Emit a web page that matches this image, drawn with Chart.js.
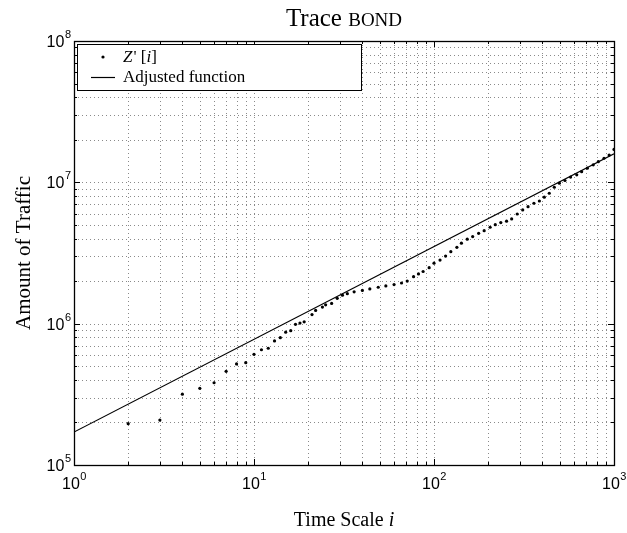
<!DOCTYPE html>
<html><head><meta charset="utf-8">
<script src="https://cdn.jsdelivr.net/npm/chart.js@4.4.0/dist/chart.umd.min.js"></script>
<style>html,body{margin:0;padding:0;background:#fff;}#wrap{width:627px;height:533px;}</style>
</head><body><div id="wrap"><canvas id="c" width="627" height="533"></canvas></div>
<script>
// ---- data ----
const timeScale = [2,3,4,5,6,7,8,9,10,11,12,13,14,15,16,17,18,19,21,22,24,25,27,29,31,33,36,40,44,49,54,60,66,71,77,82,87,94,100,108,116,124,134,142,153,164,177,190,205,219,235,253,270,290,311,333,359,385,410,437,466,497,534,574,621,661,711,767,818,880,940,1000];
const traffic = [1.96e5,2.08e5,3.17e5,3.49e5,3.82e5,4.6e5,5.19e5,5.3e5,6.07e5,6.54e5,6.7e5,7.55e5,7.96e5,8.7e5,8.92e5,9.9e5,1.01e6,1.03e6,
1.16e6,1.24e6,1.31e6,1.36e6,1.39e6,1.51e6,1.59e6,1.63e6,1.68e6,
1.72e6,1.76e6,1.81e6,1.85e6,1.89e6,1.94e6,2.0e6,2.15e6,2.25e6,2.34e6,2.49e6,
2.68e6,2.82e6,3.01e6,3.23e6,3.47e6,3.71e6,3.96e6,4.13e6,4.36e6,4.55e6,
4.81e6,5.02e6,5.19e6,5.31e6,5.51e6,5.97e6,6.38e6,6.73e6,7.11e6,7.38e6,
7.85e6,8.37e6,9.23e6,9.86e6,1.03e7,1.09e7,1.13e7,1.19e7,1.26e7,1.33e7,
1.40e7,1.48e7,1.56e7,1.71e7];
const fitX = [1, 1000];
const fitY = [1.71e5, 1.59e7];
const xTicks = [1,2,3,4,5,6,7,8,9,10,20,30,40,50,60,70,80,90,100,200,300,400,500,600,700,800,900,1000];
const yTicks = [1e5,2e5,3e5,4e5,5e5,6e5,7e5,8e5,9e5,1e6,2e6,3e6,4e6,5e6,6e6,7e6,8e6,9e6,1e7,2e7,3e7,4e7,5e7,6e7,7e7,8e7,9e7,1e8];
const xMajor = [1,10,100,1000];
const xExp = ['0','1','2','3'];
const yMajor = [1e5,1e6,1e7,1e8];
const yExp = ['5','6','7','8'];
const titleMain = 'Trace ';
const titleCaps = 'BOND';
const xTitle = 'Time Scale ';
const xTitleVar = 'i';
const yTitle = 'Amount of Traffic';
const seriesLabels = ["Z' [i]", 'Adjusted function'];

const SERIF = "'Liberation Serif', 'Times New Roman', serif";
const SANS = "'Liberation Sans', Arial, sans-serif";

const decor = {
  id: 'decor',
  beforeDatasetsDraw(chart) {
    const ctx = chart.ctx, a = chart.chartArea;
    const xs = chart.scales.x, ys = chart.scales.y;
    ctx.save();
    ctx.strokeStyle = '#8a8a8a';
    ctx.lineWidth = 1;
    ctx.setLineDash([1, 3]);
    xTicks.forEach(v => {
      const px = Math.round(xs.getPixelForValue(v)) + 0.5;
      if (px <= a.left + 1 || px >= a.right - 1) return;
      ctx.beginPath(); ctx.moveTo(px, a.top); ctx.lineTo(px, a.bottom); ctx.stroke();
    });
    yTicks.forEach(v => {
      const py = Math.round(ys.getPixelForValue(v)) + 0.5;
      if (py <= a.top + 1 || py >= a.bottom - 1) return;
      ctx.beginPath(); ctx.moveTo(a.left, py); ctx.lineTo(a.right, py); ctx.stroke();
    });
    ctx.restore();
  },
  afterDraw(chart) {
    const ctx = chart.ctx, a = chart.chartArea;
    const xs = chart.scales.x, ys = chart.scales.y;
    ctx.save();
    ctx.setLineDash([]);
    ctx.strokeStyle = '#000';
    ctx.lineWidth = 1;
    // tick marks (inward, all four sides)
    xTicks.forEach(v => {
      const px = Math.round(xs.getPixelForValue(v)) + 0.5;
      const len = xMajor.includes(v) ? 6 : 3;
      ctx.beginPath();
      ctx.moveTo(px, a.bottom); ctx.lineTo(px, a.bottom - len);
      ctx.moveTo(px, a.top); ctx.lineTo(px, a.top + len);
      ctx.stroke();
    });
    yTicks.forEach(v => {
      const py = Math.round(ys.getPixelForValue(v)) + 0.5;
      const len = yMajor.includes(v) ? 6 : 3;
      ctx.beginPath();
      ctx.moveTo(a.left, py); ctx.lineTo(a.left + len, py);
      ctx.moveTo(a.right, py); ctx.lineTo(a.right - len, py);
      ctx.stroke();
    });
    // box
    ctx.lineWidth = 1.3;
    ctx.strokeRect(Math.round(a.left) + 0.5, Math.round(a.top) + 0.5, Math.round(a.right - a.left), Math.round(a.bottom - a.top));

    // legend
    const lx = 77, ly = 44, lw = 284, lh = 46;
    ctx.fillStyle = '#fff';
    ctx.fillRect(lx, ly, lw, lh);
    ctx.lineWidth = 1;
    ctx.strokeRect(lx + 0.5, ly + 0.5, lw, lh);
    ctx.fillStyle = '#000';
    ctx.beginPath(); ctx.arc(103, 57, 1.6, 0, Math.PI * 2); ctx.fill();
    ctx.beginPath(); ctx.moveTo(91, 77.5); ctx.lineTo(115, 77.5); ctx.lineWidth = 1.2; ctx.stroke();
    ctx.textBaseline = 'alphabetic';
    ctx.textAlign = 'left';
    let tx = 123;
    const parts = [['Z', true], ["' [", false], ['i', true], [']', false]];
    parts.forEach(([s, it]) => {
      ctx.font = (it ? 'italic ' : '') + '17px ' + SERIF;
      ctx.fillText(s, tx, 62);
      tx += ctx.measureText(s).width + (s === 'Z' ? 1 : 0);
    });
    ctx.font = '17px ' + SERIF;
    ctx.fillText(seriesLabels[1], 123, 82);

    // tick labels
    xMajor.forEach((v, k) => {
      const px = xs.getPixelForValue(v);
      ctx.font = '16px ' + SANS;
      const wb = ctx.measureText('10').width;
      ctx.font = '11px ' + SANS;
      const we = ctx.measureText(xExp[k]).width;
      const x0 = px - (wb + we) / 2;
      ctx.font = '16px ' + SANS;
      ctx.fillText('10', x0, 489);
      ctx.font = '11px ' + SANS;
      ctx.fillText(xExp[k], x0 + wb + 0.5, 480);
    });
    yMajor.forEach((v, k) => {
      const py = ys.getPixelForValue(v);
      ctx.font = '11px ' + SANS;
      const we = ctx.measureText(yExp[k]).width;
      ctx.font = '16px ' + SANS;
      const wb = ctx.measureText('10').width;
      const xr = a.left - 3;
      ctx.fillText('10', xr - we - wb - 0.5, py + 6);
      ctx.font = '11px ' + SANS;
      ctx.fillText(yExp[k], xr - we, py - 3);
    });

    // title with small caps
    ctx.font = '25px ' + SERIF;
    const w1 = ctx.measureText(titleMain).width;
    ctx.font = '19px ' + SERIF;
    const w2 = ctx.measureText(titleCaps).width;
    const cx = (a.left + a.right) / 2;
    let t0 = cx - (w1 + w2) / 2;
    ctx.font = '25px ' + SERIF;
    ctx.fillText(titleMain, t0, 26);
    ctx.font = '19px ' + SERIF;
    ctx.fillText(titleCaps, t0 + w1, 26);

    // x title
    ctx.font = '20px ' + SERIF;
    const wx1 = ctx.measureText(xTitle).width;
    ctx.font = 'italic 20px ' + SERIF;
    const wx2 = ctx.measureText(xTitleVar).width;
    let x0 = cx - (wx1 + wx2) / 2;
    ctx.font = '20px ' + SERIF;
    ctx.fillText(xTitle, x0, 526);
    ctx.font = 'italic 20px ' + SERIF;
    ctx.fillText(xTitleVar, x0 + wx1, 526);

    // y title
    ctx.save();
    ctx.translate(30, (a.top + a.bottom) / 2);
    ctx.rotate(-Math.PI / 2);
    ctx.font = '21px ' + SERIF;
    ctx.textAlign = 'center';
    ctx.fillText(yTitle, 0, 0);
    ctx.restore();

    ctx.restore();
  }
};

new Chart(document.getElementById('c'), {
  type: 'scatter',
  data: {
    datasets: [
      {
        label: seriesLabels[0],
        data: timeScale.map((x, k) => ({ x, y: traffic[k] })),
        showLine: false,
        pointRadius: 1.6,
        pointHoverRadius: 1.6,
        pointBorderWidth: 0,
        pointBackgroundColor: '#000',
        borderColor: '#000'
      },
      {
        label: seriesLabels[1],
        data: fitX.map((x, k) => ({ x, y: fitY[k] })),
        showLine: true,
        pointRadius: 0,
        borderColor: '#000',
        borderWidth: 1.2,
        fill: false
      }
    ]
  },
  options: {
    responsive: false,
    animation: false,
    layout: { padding: { left: 74, right: 13, top: 41, bottom: 68 } },
    plugins: { legend: { display: false }, title: { display: false }, tooltip: { enabled: false } },
    scales: {
      x: { type: 'logarithmic', min: 1, max: 1000, display: false },
      y: { type: 'logarithmic', min: 1e5, max: 1e8, display: false }
    }
  },
  plugins: [decor]
});
</script>
</body></html>
